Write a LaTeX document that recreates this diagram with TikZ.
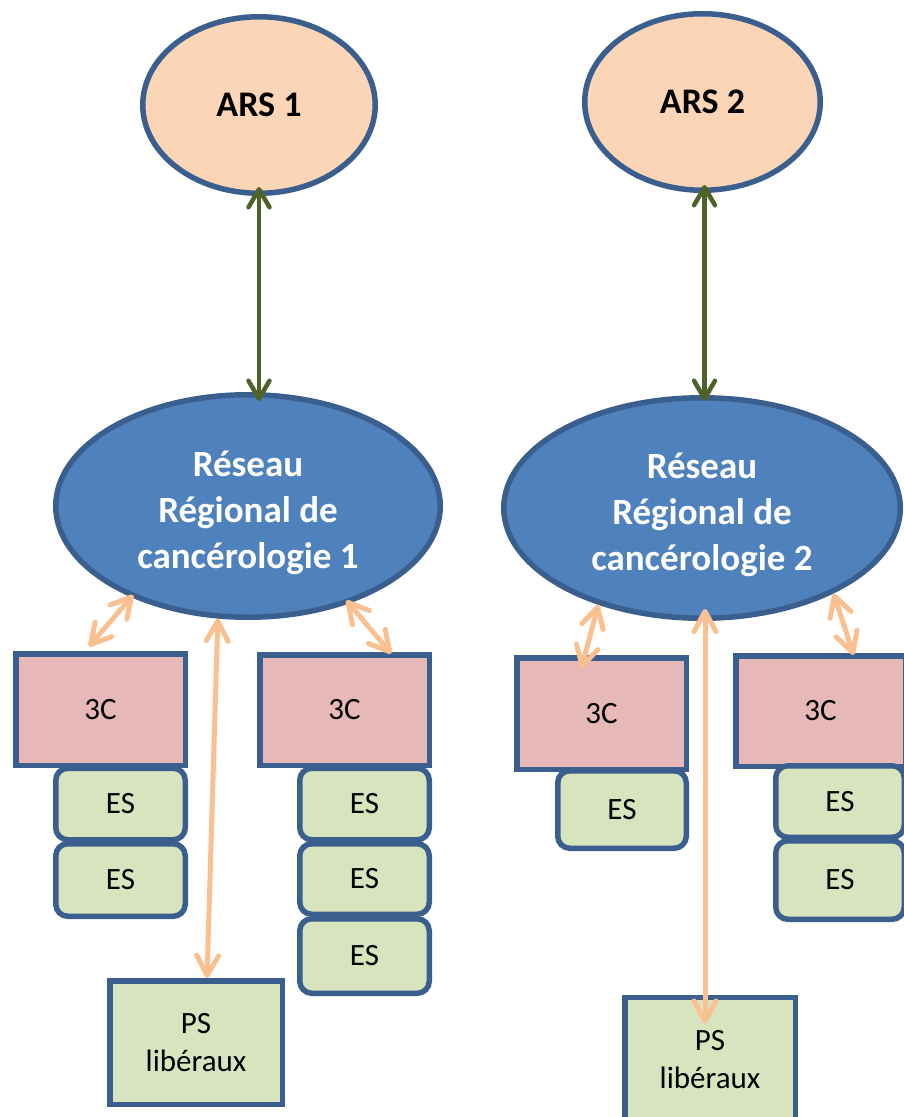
\documentclass[tikz,border=0pt]{standalone}
\usepackage{fontspec}
\setmainfont{Carlito}
\usetikzlibrary{shapes.geometric,arrows.meta}
\definecolor{edgeblue}{HTML}{3A5F8E}
\definecolor{arspeach}{HTML}{FBD5B5}
\definecolor{rrcblue}{HTML}{4F81BD}
\definecolor{ccpink}{HTML}{E6B9B8}
\definecolor{esgreen}{HTML}{D7E4BD}
\definecolor{linkpeach}{HTML}{FAC090}
\definecolor{linkgreen}{HTML}{4F6228}
\begin{document}
\begin{tikzpicture}
		[x=1pt,y=1pt,
		ars/.style={ellipse,draw=edgeblue,fill=arspeach,line width=5.5pt,
inner sep=0pt,minimum width=232.5pt,minimum height=176.5pt,font=\fontsize{36}{44}\selectfont\bfseries},
		rrc/.style={ellipse,draw=edgeblue,fill=rrcblue,line width=5.5pt,text=white,align=center,
inner sep=0pt,font=\fontsize{37}{46}\selectfont\bfseries},
		ccc/.style={rectangle,draw=edgeblue,fill=ccpink,line width=5.5pt,
inner sep=0pt,minimum width=169.5pt,minimum height=111.5pt,font=\fontsize{31}{38}\selectfont},
		es/.style={rectangle,rounded corners=12pt,draw=edgeblue,fill=esgreen,line width=5.5pt,
inner sep=0pt,minimum width=129.5pt,minimum height=72.5pt,font=\fontsize{31}{38}\selectfont},
		ps/.style={rectangle,draw=edgeblue,fill=esgreen,line width=5.5pt,align=center,
inner sep=0pt,minimum width=172.5pt,font=\fontsize{31}{38}\selectfont},
		peachlink/.style={linkpeach,line width=5pt,line cap=round,
{Straight Barb[length=20pt,width=22pt,line cap=round,line join=round]}-{Straight Barb[length=20pt,width=22pt,line cap=round,line join=round]}},
		greenlink/.style={linkgreen,line width=4.5pt,
{Straight Barb[length=18pt,width=21pt,line cap=round,line join=round]}-{Straight Barb[length=18pt,width=21pt,line cap=round,line join=round]}}]
		\useasboundingbox (0,0) rectangle (903,-1117);
		% agences regionales
		\node at (259, -105) (ars1) [ars] {ARS 1};
		\node at (702.5, -102) (ars2) [ars,minimum width=235.5pt] {ARS 2};
		% reseaux
		\node at (248, -506) (rrc1) [rrc,minimum width=384.5pt,minimum height=222.5pt] {\rule{0pt}{39pt}R\'eseau\\R\'egional de\\canc\'erologie 1};
		\node at (702, -508) (rrc2) [rrc,minimum width=396.5pt,minimum height=220.5pt] {\rule{0pt}{39pt}R\'eseau\\R\'egional de\\canc\'erologie 2};
		% 3C
		\node at (100.5, -709.5) (cca) [ccc] {3C};
		\node at (344.5, -710) (ccb) [ccc,minimum height=110.5pt] {3C};
		\node at (601.5, -713.5) (ccc) [ccc] {3C};
		\node at (820.5, -711) (ccd) [ccc,minimum height=110.5pt] {3C};
		% ES
		\node at (120.5, -804) (esa1) [es,minimum height=71.5pt] {ES};
		\node at (120.5, -880) (esa2) [es] {ES};
		\node at (364.5, -804) (esb1) [es,minimum height=71.5pt] {ES};
		\node at (364.5, -879) (esb2) [es,minimum height=70.5pt] {ES};
		\node at (364.5, -956) (esb3) [es,minimum height=74.5pt] {ES};
		\node at (622, -809.5) (esc1) [es,minimum height=77.5pt,minimum width=128.5pt] {ES};
		\node at (840, -801.5) (esd1) [es,minimum height=71.5pt,minimum width=128.5pt] {ES};
		\node at (840, -880) (esd2) [es,minimum height=78.5pt,minimum width=128.5pt] {ES};
		% PS
		\node at (196, -1042.5) (ps1) [ps,minimum height=123.5pt] {PS\\lib\'eraux};
		\node at (710, -1060) (ps2) [ps,minimum width=170.5pt,minimum height=125.5pt] {PS\\lib\'eraux};
		% liens
		\draw[greenlink,shorten <=-9pt,shorten >=-9pt] (ars1.south) -- (ars1.south |- rrc1.north);
		\draw[greenlink,shorten <=-8pt,shorten >=-6pt] ([xshift=2pt]ars2.south) -- ([xshift=2pt]ars2.south |- rrc2.north);
		\draw[peachlink,shorten <=-3pt,shorten >=6pt] (rrc1.218) -- ([xshift=-15.5pt]cca.north);
		\draw[peachlink] (rrc1.255) -- ([xshift=11pt]ps1.north);
		\draw[peachlink,shorten <=-4pt,shorten >=-2pt] (rrc1.316) -- ([xshift=45.5pt]ccb.north);
		\draw[peachlink,shorten >=-14pt] (rrc2.223) -- ([xshift=-16.5pt]ccc.north);
		\draw[peachlink,shorten <=-12pt,shorten >=-29pt] ([xshift=3pt]rrc2.south) -- ([xshift=3pt]rrc2.south |- ps2.north);
		\draw[peachlink,shorten >=-2pt] (rrc2.327) -- ([xshift=32.5pt]ccd.north);
\end{tikzpicture}
\end{document}
